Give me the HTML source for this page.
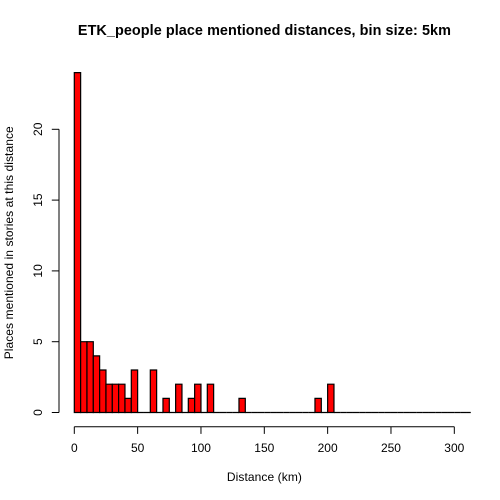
<!DOCTYPE html>
<html>
<head>
<meta charset="utf-8">
<title>ETK_people place mentioned distances</title>
<style>
html,body{margin:0;padding:0;background:#fff;width:500px;height:500px;overflow:hidden}
svg{display:block}
text{font-family:"Liberation Sans",Arial,sans-serif;fill:#000}
</style>
</head>
<body>
<svg id="chart" width="500" height="500" viewBox="0 0 500 500">
<rect width="500" height="500" fill="#fff"/>
<text x="264.4" y="35" text-anchor="middle" font-size="14.4" font-weight="bold" textLength="373" lengthAdjust="spacing">ETK_people place mentioned distances, bin size: 5km</text>
<text x="264.4" y="481" text-anchor="middle" font-size="12" textLength="75" lengthAdjust="spacing">Distance (km)</text>
<text transform="translate(12.8,242.8) rotate(-90)" text-anchor="middle" font-size="12" textLength="233" lengthAdjust="spacing">Places mentioned in stories at this distance</text>
<g id="bars"></g>
<g id="x-axis"></g>
<g id="y-axis"></g>
</svg>
<script>
const binSize = 5;
const maxDistance = 313;
const counts = [24,5,5,4,3,2,2,2,1,3,0,0,3,0,1,0,2,0,1,2,0,2,0,0,0,0,1,0,0,0,0,0,0,0,0,0,0,0,1,0,2,0,0,0,0,0,0,0,0,0,0,0,0,0,0,0,0,0,0,0,0,0,0,0];
const xTicks = [0,50,100,150,200,250,300];
const yTicks = [0,5,10,15,20];

const NS = 'http://www.w3.org/2000/svg';
const xScale = v => 74.3 + v * 1.2667;
const yScale = v => 412.5 - v * 14.16;

function make(tag, parent, props, text) {
  const el = document.createElementNS(NS, tag);
  for (const k in props) el.setAttribute(k, props[k]);
  if (text !== undefined) el.textContent = text;
  parent.appendChild(el);
  return el;
}

const barsG = document.getElementById('bars');
counts.forEach((c, i) => {
  const x0 = i * binSize;
  if (x0 >= maxDistance) return;
  const x1 = Math.min(x0 + binSize, maxDistance);
  const left = xScale(x0);
  const right = xScale(x1);
  const base = yScale(0);
  const top = yScale(c);
  const bar = make('path', barsG, {
    d: 'M' + left + ' ' + base + 'V' + top + 'H' + right + 'V' + base + 'Z',
    fill: '#ff0000', stroke: '#000', 'stroke-width': 1.2
  });
  
  
});

const xG = document.getElementById('x-axis');
const xAxisY = 426.7;
const xLine = make('line', xG, {
  x1: xScale(xTicks[0]), x2: xScale(xTicks[xTicks.length - 1]),
  y1: xAxisY, y2: xAxisY, stroke: '#000', 'stroke-width': 1
});


xTicks.forEach(t => {
  const tick = make('line', xG, {
    x1: xScale(t), x2: xScale(t), y1: xAxisY, y2: xAxisY + 7.2,
    stroke: '#000', 'stroke-width': 1
  });
  
  
  const label = make('text', xG, {
    x: xScale(t), y: 452, 'text-anchor': 'middle', 'font-size': 12
  }, String(t));
  
  
});

const yG = document.getElementById('y-axis');
const yAxisX = 59;
const yLine = make('line', yG, {
  x1: yAxisX, x2: yAxisX,
  y1: yScale(yTicks[0]), y2: yScale(yTicks[yTicks.length - 1]),
  stroke: '#000', 'stroke-width': 1
});


yTicks.forEach(t => {
  const tick = make('line', yG, {
    x1: yAxisX - 7.2, x2: yAxisX, y1: yScale(t), y2: yScale(t),
    stroke: '#000', 'stroke-width': 1
  });
  
  
  const label = make('text', yG, {
    transform: 'translate(42,' + yScale(t) + ') rotate(-90)',
    'text-anchor': 'middle', 'font-size': 12
  }, String(t));
  
  
});
</script>
</body>
</html>
